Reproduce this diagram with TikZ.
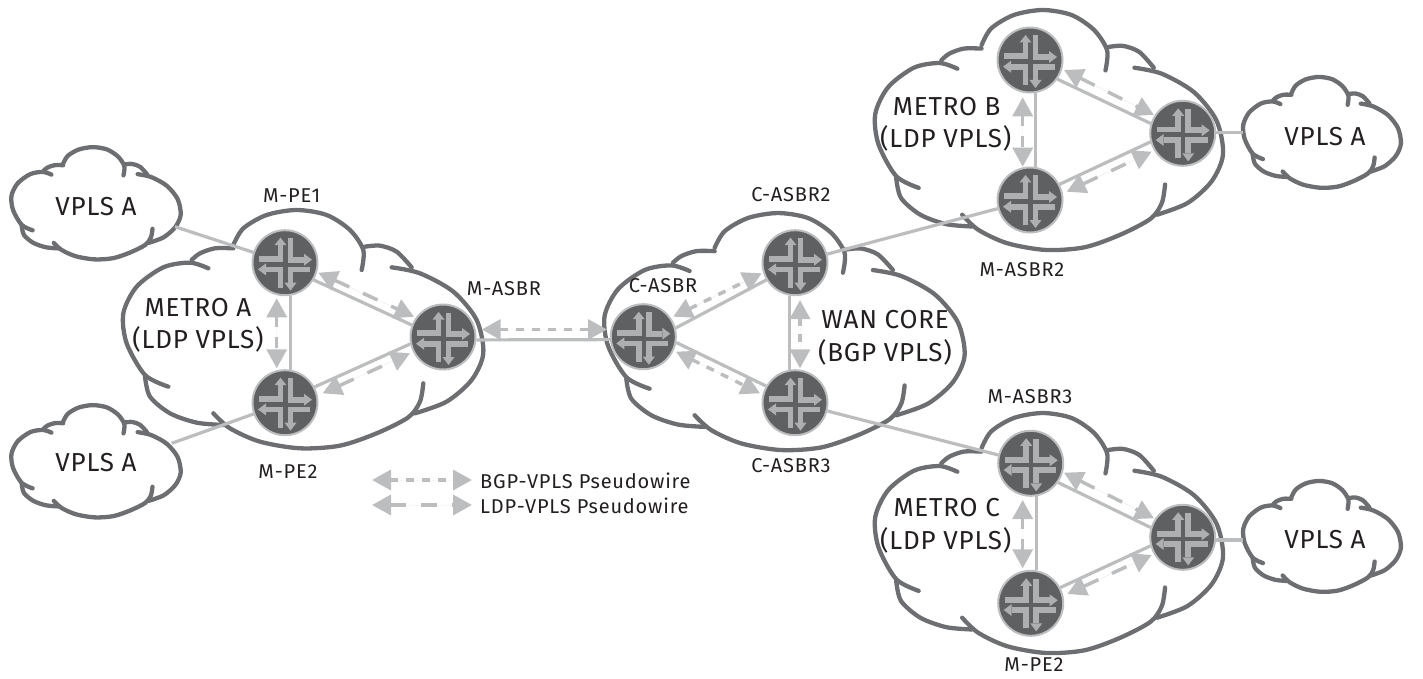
\documentclass[tikz,border=0pt]{standalone}
\usepackage{fontspec}
\setmainfont{Fira Sans}
\usetikzlibrary{arrows.meta}
\definecolor{cloudgray}{HTML}{6D6E71}
\definecolor{wire}{HTML}{BCBDBF}
\definecolor{rfill}{HTML}{5F6062}
\definecolor{ricon}{HTML}{AEAFB1}
\definecolor{ink}{HTML}{231F20}
\newcommand\routericon{%
\begin{scope}[shift={(path picture bounding box.center)}]
\draw[iconline] (-26,-3.7) -- (-4.5,-3.7) -- (-4.5,-18);
\fill[ricon] (-4.5,-25) -- (-10.5,-17.5) -- (1.5,-17.5) -- cycle;
\draw[iconline] (5.5,-24.5) -- (5.5,-3) -- (19,-3);
\fill[ricon] (27,-3) -- (19,-9) -- (19,3) -- cycle;
\draw[iconline] (25,6.7) -- (5.5,6.7) -- (5.5,20);
\fill[ricon] (5.5,28) -- (-0.5,20) -- (11.5,20) -- cycle;
\draw[iconline] (-4.5,25) -- (-4.5,6.7) -- (-19,6.7);
\fill[ricon] (-27,6.7) -- (-19,0.7) -- (-19,12.7) -- cycle;
\end{scope}}
\newcommand\cloudshape[4]{%
\begin{scope}[shift={(#1,#2)},xscale=#3,yscale=#4]
\draw[cloudline] plot[smooth] coordinates {(325,265)(270,248)(190,262)(110,320)(70,400)(80,490)(135,585)(205,620)};
\draw[cloudline] plot[smooth] coordinates {(135,590)(150,650)(210,700)(290,728)(370,735)};
\draw[cloudline] plot[smooth] coordinates {(340,700)(390,745)(480,785)(600,805)(720,797)(830,760)(925,712)(960,665)(970,610)};
\draw[cloudline] plot[smooth] coordinates {(945,700)(1040,665)(1115,600)(1150,520)(1130,420)(1060,335)(960,280)(875,262)};
\draw[cloudline] plot[smooth] coordinates {(935,262)(890,215)(840,197)(795,200)};
\draw[cloudline] plot[smooth] coordinates {(400,195)(430,145)(500,105)(590,90)(680,105)(750,150)(790,210)(785,270)};
\draw[cloudline] plot[smooth] coordinates {(400,205)(345,205)(300,220)(275,240)};
\end{scope}}
\tikzset{
 iconline/.style={draw=ricon,line width=5.8pt,miter limit=10},
 cloudline/.style={draw=cloudgray,line width=4.3pt,line cap=round,line join=round},
 router/.style={circle,inner sep=0pt,minimum size=65pt,fill=rfill,draw=wire,line width=2pt,path picture={\routericon}},
 link/.style={draw=wire,line width=3.2pt},
 pwtips/.style={{Triangle[length=19pt,width=20pt]}-{Triangle[length=19pt,width=20pt]}},
 ldp/.style={draw=wire,fill=wire,line width=3.5pt,pwtips,dash pattern=on 16pt off 15pt},
 ldpv/.style={draw=wire,fill=wire,line width=3.5pt,pwtips,dash pattern=on 11pt off 10pt},
 bgp/.style={draw=wire,fill=wire,line width=3.5pt,pwtips,dash pattern=on 8pt off 8pt},
 small/.style={text=ink,font=\fontsize{20}{22}\selectfont\addfontfeatures{LetterSpace=4},inner sep=0pt},
 big/.style={text=ink,font=\fontsize{26}{28}\selectfont\addfontfeatures{LetterSpace=3},inner sep=0pt},
}
\begin{document}
\begin{tikzpicture}[x=1pt,y=-1pt]
\useasboundingbox (0,0) rectangle (1423,679);
% clouds
\cloudshape{100}{180}{0.3333}{0.3333}
\cloudshape{581.3}{183.2}{0.3333}{0.3315}
\cloudshape{852.7}{-20.2}{0.322}{0.3356}
\cloudshape{852.7}{382.8}{0.322}{0.3356}
\cloudshape{0.5}{133}{0.1567}{0.157}
\cloudshape{0.5}{391}{0.1567}{0.157}
\cloudshape{1233}{63}{0.146}{0.155}
\cloudshape{1233}{467}{0.146}{0.155}
% routers
\node[router] (pe1) at (285,262.7) {};
\node[router] (pe2) at (285,402.7) {};
\node[router] (masbr) at (443,337) {};
\node[router] (casbr) at (643.3,336.7) {};
\node[router] (casbr2) at (795,262.7) {};
\node[router] (casbr3) at (795,402.7) {};
\node[router] (bt) at (1030,60) {};
\node[router] (bb) at (1030,200) {};
\node[router] (br) at (1182.7,133.3) {};
\node[router] (ct) at (1030.7,463.3) {};
\node[router] (cb) at (1030.7,603.3) {};
\node[router] (cr) at (1182.7,537.3) {};
% free ends
\coordinate (v1e) at (175,226.7);
\coordinate (v2e) at (171.7,443.3);
\coordinate (v3e) at (1243,132.7);
\coordinate (v4e) at (1243,540);
% links
\draw[link] (v1e) -- (pe1);
\draw[link] (v2e) -- (pe2);
\draw[link] (pe1.280) -- (pe2.80);
\draw[link] (pe1.-31) -- (masbr.159);
\draw[link] (pe2.28) -- (masbr.192);
\draw[link] (masbr.-5) -- (casbr.185);
\draw[link] (casbr.15) -- (casbr2.211);
\draw[link] (casbr.-10) -- (casbr3.150);
\draw[link] (casbr2.260) -- (casbr3.100);
\draw[link] (casbr2) -- (bb);
\draw[link] (casbr3) -- (ct);
\draw[link] (bt.280) -- (bb.80);
\draw[link] (bt.-35) -- (br.163);
\draw[link] (bb.28) -- (br.195);
\draw[link] (ct.280) -- (cb.80);
\draw[link] (ct.-35) -- (cr.163);
\draw[link] (cb.28) -- (cr.195);
\draw[link] (br.east |- v3e) -- (v3e);
\draw[link] (cr.east |- v4e) -- (v4e);
% pseudowire ends
\coordinate (a1) at (276.7,298.3); \coordinate (a2) at (276.7,368.3);
\coordinate (a3) at (318.3,272.7); \coordinate (a4) at (414,316.7);
\coordinate (a5) at (322.7,393.3); \coordinate (a6) at (410,353.3);
\coordinate (m1) at (481.7,329.5); \coordinate (m2) at (607,329.5);
\coordinate (w1) at (673.3,316.7); \coordinate (w2) at (761.7,273.3);
\coordinate (w3) at (676,351.7); \coordinate (w4) at (760,393.3);
\coordinate (w5) at (800,300); \coordinate (w6) at (800,368.3);
\coordinate (b1) at (1022.7,97.3); \coordinate (b2) at (1022.7,166.7);
\coordinate (b3) at (1064,70); \coordinate (b4) at (1154,115);
\coordinate (b5) at (1066.7,191.7); \coordinate (b6) at (1151.7,151.7);
\coordinate (c1) at (1022.7,500); \coordinate (c2) at (1022.7,568.3);
\coordinate (c3) at (1064,472.7); \coordinate (c4) at (1154,518.3);
\coordinate (c5) at (1067.3,594); \coordinate (c6) at (1151.7,555);
\coordinate (l1) at (372,480); \coordinate (l2) at (472,480);
\coordinate (l3) at (372,505); \coordinate (l4) at (472,505);
\draw[ldpv] (a1) -- (a2); \draw[ldp] (a3) -- (a4); \draw[ldp] (a5) -- (a6);
\draw[bgp] (m1) -- (m2);
\draw[bgp] (w1) -- (w2); \draw[bgp] (w3) -- (w4); \draw[bgp] (w5) -- (w6);
\draw[ldpv] (b1) -- (b2); \draw[ldp] (b3) -- (b4); \draw[ldp] (b5) -- (b6);
\draw[ldpv] (c1) -- (c2); \draw[ldp] (c3) -- (c4); \draw[ldp] (c5) -- (c6);
\draw[bgp] (l1) -- (l2);
\draw[ldp] (l3) -- (l4);
% labels
\node[big] (tA1) at (198,308) {METRO A};
\node[big] (tA2) at (198,339) {(LDP VPLS)};
\node[big] (tW1) at (885,320) {WAN CORE};
\node[big] (tW2) at (885,352) {(BGP VPLS)};
\node[big] (tB1) at (946.7,106.7) {METRO B};
\node[big] (tB2) at (945.7,138) {(LDP VPLS)};
\node[big] (tC1) at (946.7,508) {METRO C};
\node[big] (tC2) at (945.7,540) {(LDP VPLS)};
\node[big] (v1) at (96,207) {VPLS A};
\node[big] (v2) at (96,463) {VPLS A};
\node[big] (v3) at (1325,137) {VPLS A};
\node[big] (v4) at (1325,540) {VPLS A};
\node[small] (n1) at (291.7,196) {M-PE1};
\node[small] (n2) at (288,472) {M-PE2};
\node[small] (n3) at (504,289) {M-ASBR};
\node[small] (n4) at (663,286) {C-ASBR};
\node[small] (n5) at (791,195) {C-ASBR2};
\node[small] (n6) at (791,466) {C-ASBR3};
\node[small] (n7) at (1022,270) {M-ASBR2};
\node[small] (n8) at (1030,397) {M-ASBR3};
\node[small] (n9) at (1034,665) {M-PE2};
\node[small,anchor=west] (k1) at (480,481) {BGP-VPLS Pseudowire};
\node[small,anchor=west] (k2) at (480,506) {LDP-VPLS Pseudowire};
\end{tikzpicture}
\end{document}
